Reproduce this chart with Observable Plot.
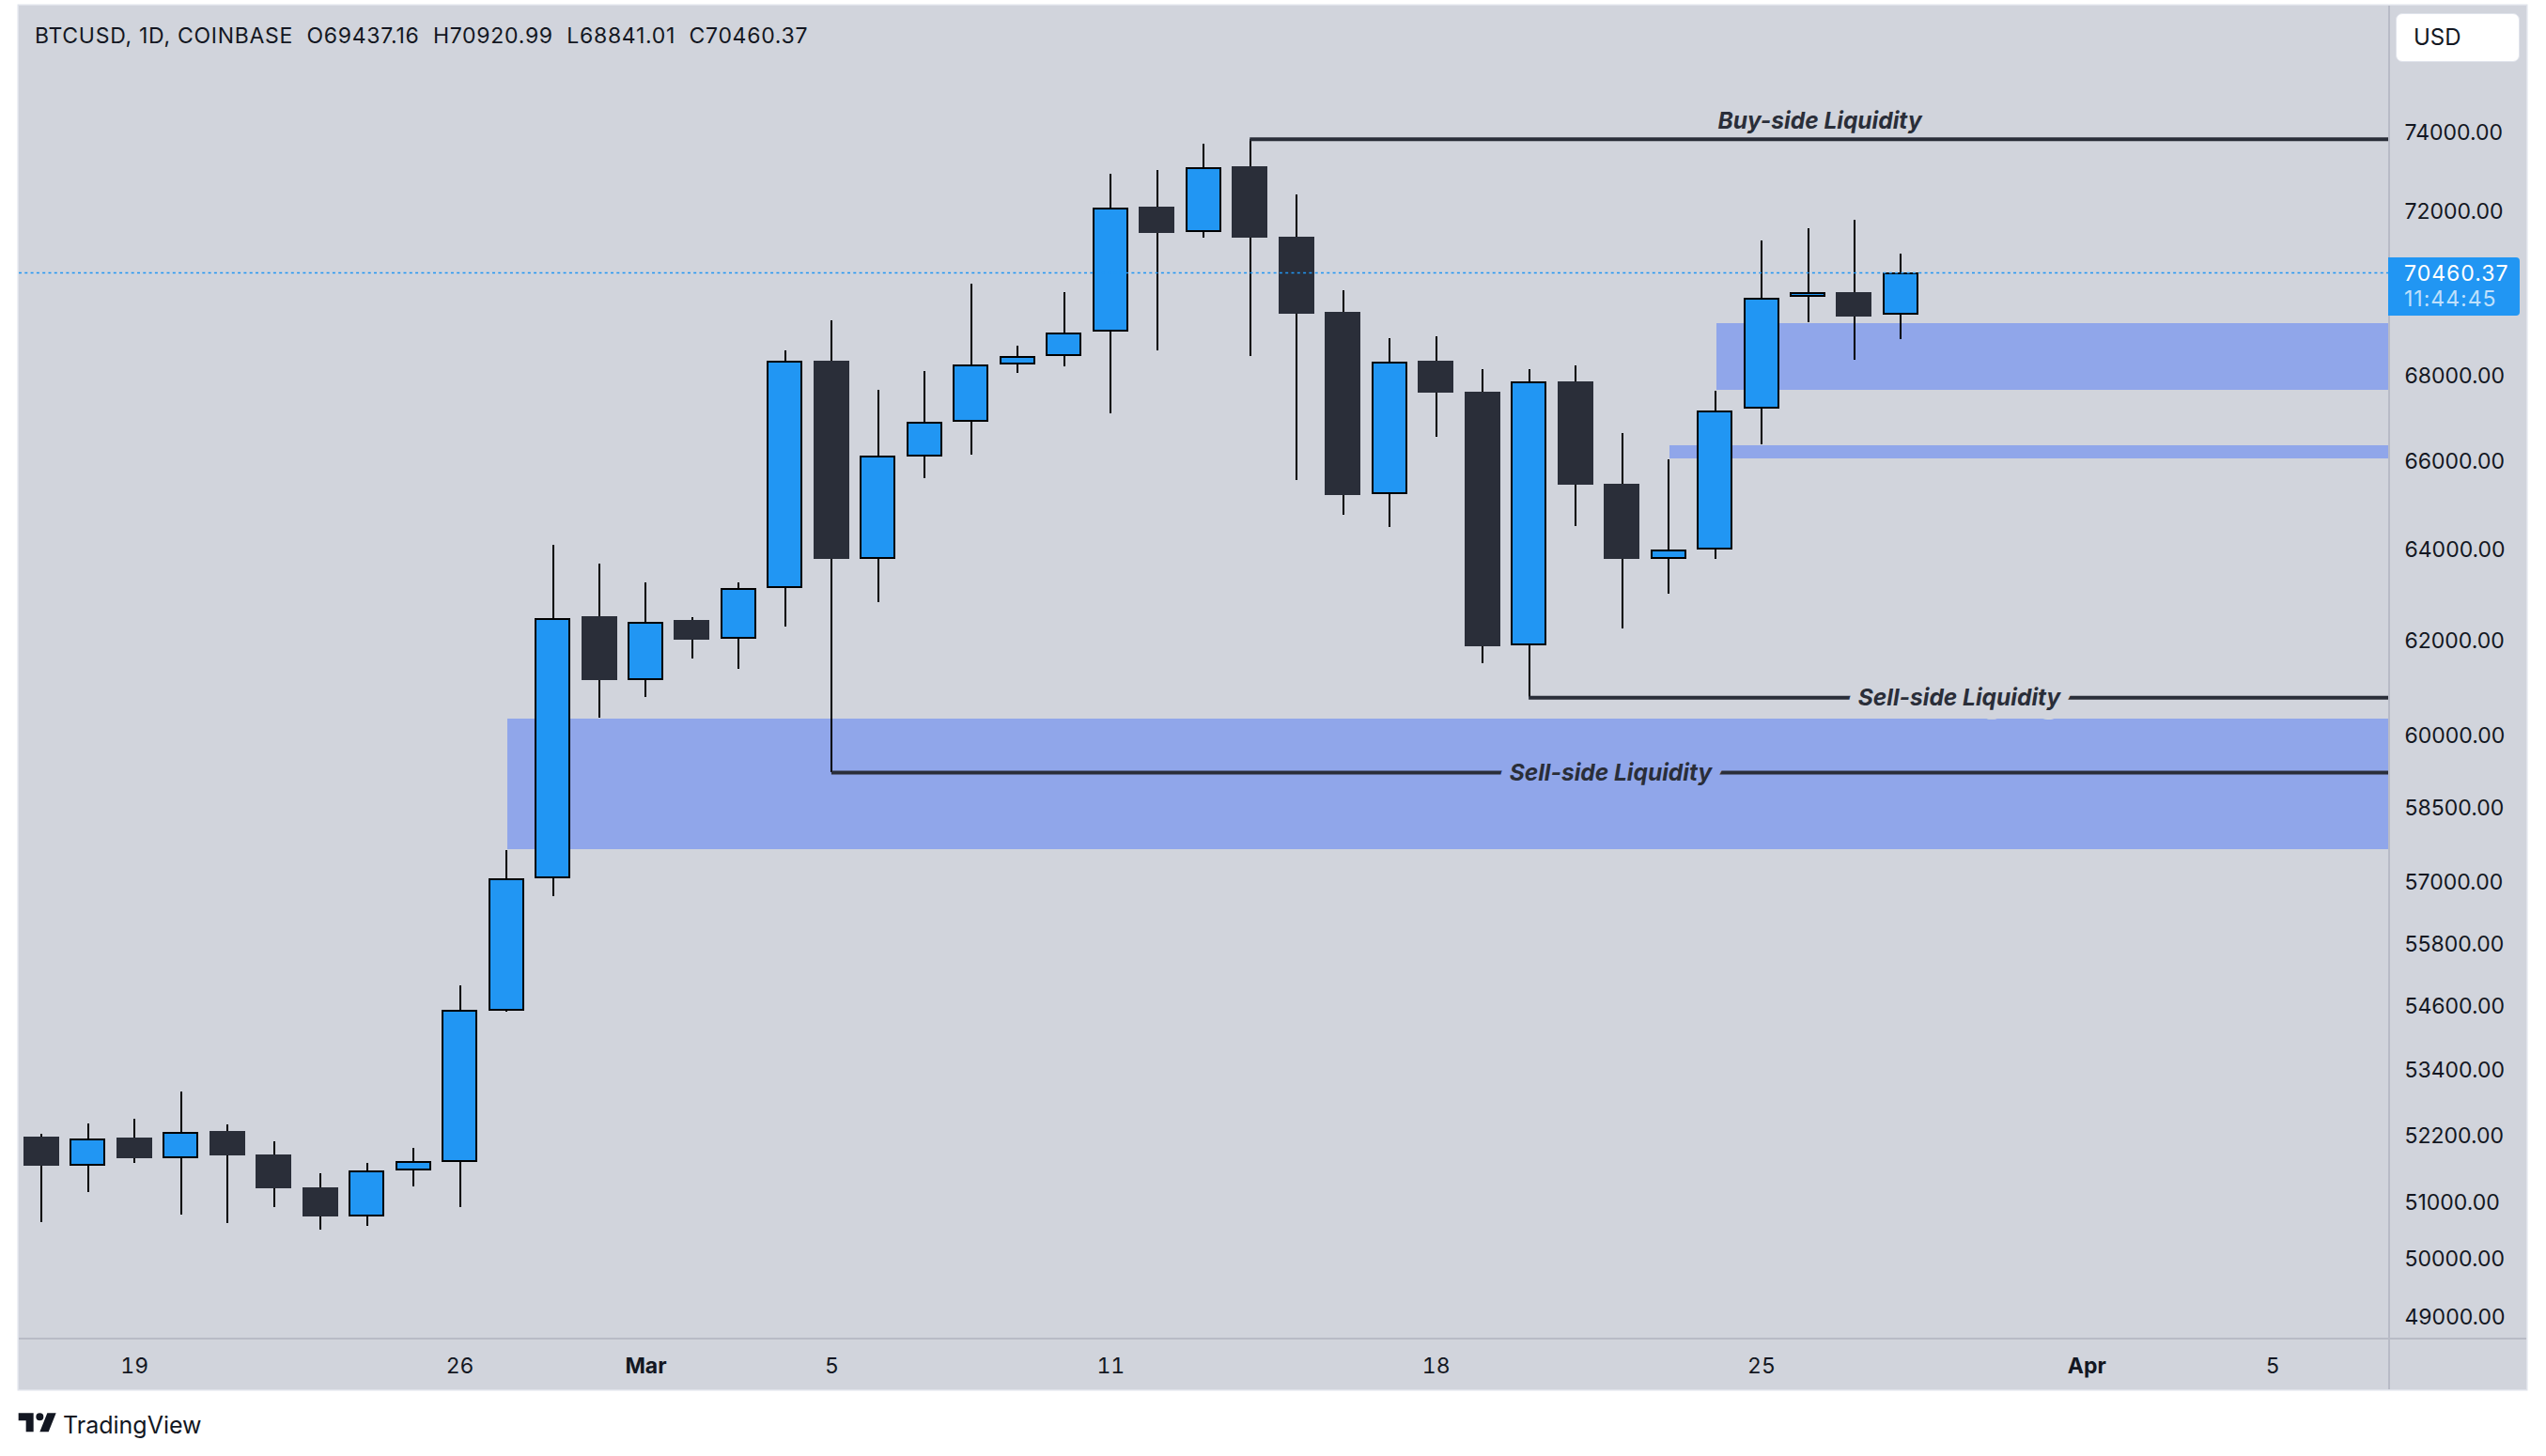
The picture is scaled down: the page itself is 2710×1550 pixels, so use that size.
<!DOCTYPE html>
<html><head><meta charset="utf-8">
<script src="https://cdn.jsdelivr.net/npm/d3@7"></script>
<script src="https://cdn.jsdelivr.net/npm/@observablehq/plot@0.6"></script>
<style>
html,body{margin:0;background:#fff;width:2710px;height:1550px;overflow:hidden;font-family:Inter,sans-serif;color:#131722}
#panel{position:absolute;left:20px;top:6px;width:2669px;height:1473px;background:#d1d4dc;box-shadow:0 0 0 1.5px #e0e3eb}
#chart{position:absolute;left:0;top:0}
#chart svg{display:block;background:transparent}
.v{position:absolute;left:2542px;top:6px;width:2px;height:1473px;background:#b8bbc6}
.h{position:absolute;left:20px;top:1424px;width:2669px;height:1.6px;background:#b8bbc6}
#head{position:absolute;left:37px;top:24px;font:23px/28px Inter,sans-serif;white-space:pre;color:#131722;letter-spacing:.72px}
#usd{position:absolute;left:2550px;top:14px;width:132px;height:52px;box-sizing:border-box;background:#fff;border-radius:7px;border:1px solid #e0e3eb;font:24px/50px Inter,sans-serif;padding-left:18px;color:#131722}
#tag{position:absolute;left:2542px;top:274px;width:140px;height:62px;background:#2196f3;border-radius:0 4px 4px 0;color:#fff;font:23px/28px Inter,sans-serif;letter-spacing:1px}
#tag span{position:absolute;left:17px}
#foot{position:absolute;left:20px;top:1498px;height:36px;color:#131722;font:25px/38px Inter,sans-serif}
#foot svg{position:absolute;left:-2.6px;top:5px}
#foot b{position:absolute;left:47px;top:0;font-weight:400;white-space:nowrap}
[aria-label="price tick"]{letter-spacing:1px}
</style></head>
<body>
<div id="panel"></div>
<div id="chart"></div>
<div class="v"></div><div class="h"></div>
<div id="head">BTCUSD, 1D, COINBASE  O69437.16  H70920.99  L68841.01  C70460.37</div>
<div id="usd">USD</div>
<div id="tag"><span style="top:3px">70460.37</span><span style="top:30px;color:#bfe0fc">11:44:45</span></div>
<div id="foot"><svg width="48" height="28" viewBox="0 6 36 20" preserveAspectRatio="xMinYMin"><path fill="#131722" transform="translate(0,1)" d="M14 6H2v6h6v9h6V6Zm12 15h-7l6-15h7l-6 15Zm-7-9a3 3 0 1 0 0-6 3 3 0 0 0 0 6Z"/></svg><b>TradingView</b></div>
<script>
const firstDay = Date.UTC(2024, 1, 17);
const dayMs = 864e5;
const opens = [52158,51641,52141,51776,52260,51835,51245,50737,51556,51708,54494,57064,62518,61145,62436,62025,63130,68327,63781,66092,66897,68249,68447,69023,72090,71456,73110,71340,69498,65227,68327,67594,61883,67837,65462,63781,63981,67188,69863,69977,69437.16];
const highs = [52204,52397,52483,52983,52380,52073,51497,51683,51954,54977,57627,64086,63668,63254,62493,63254,68573,69294,67638,68081,70183,68685,69977,72919,73015,73686,73816,72397,70023,68865,68910,68126,68126,68215,66628,66021,67616,71246,71550,71761,70920.99];
const lows = [50629,51162,51683,50762,50613,50895,50497,50563,51262,50895,54476,56711,60349,60780,61601,61379,62289,59212,62821,65591,66129,68037,68193,67087,68573,71321,68438,65548,64760,64485,66541,61500,60780,64506,62248,63006,63773,66367,69249,68349,68841.01];
const closes = [51632,52132,51767,52252,51818,51229,50729,51556,51717,54511,57064,62481,61139,62399,62009,63130,68338,63773,66108,66897,68249,68447,69009,72073,71435,73098,71321,69453,65206,68316,67571,61863,67837,65441,63773,63981,67164,69851,69977,69385,70460.37];
const priceTicks = [74000,72000,68000,66000,64000,62000,60000,58500,57000,55800,54600,53400,52200,51000,50000,49000];
const dayTicks = [Date.UTC(2024,1,19),Date.UTC(2024,1,26),Date.UTC(2024,2,5),Date.UTC(2024,2,11),Date.UTC(2024,2,18),Date.UTC(2024,2,25),Date.UTC(2024,3,5)].map(d=>new Date(d));
const monthTicks = [Date.UTC(2024,2,1),Date.UTC(2024,3,1)].map(d=>new Date(d));
const lastPrice = [70460.37];
const zoneStarts = [Date.UTC(2024,1,27),Date.UTC(2024,2,24),Date.UTC(2024,2,23)];
const zoneTops = [60325,69226,66346];
const zoneBottoms = [57645,67638,66043];
const lineStarts = [Date.UTC(2024,2,14),Date.UTC(2024,2,20),Date.UTC(2024,2,5)];
const linePrices = [73816,60780,59212];
const lineLabels = ["Buy-side Liquidity","Sell-side Liquidity","Sell-side Liquidity"];

const bg = "#d1d4dc", zoneFill = "#90a6ea", dark = "#2a2e39", blue = "#2196f3";
const xDomain = [new Date(firstDay - 0.48*dayMs), new Date(firstDay + 50.51*dayMs)];
const candles = opens.map((o,i)=>({date:new Date(firstDay+i*dayMs),o,h:highs[i],l:lows[i],c:closes[i],up:closes[i]>=o}));
const zones = zoneStarts.map((s,i)=>({x1:new Date(s),x2:xDomain[1],y1:zoneBottoms[i],y2:zoneTops[i]}));
const lines = lineStarts.map((s,i)=>({x1:new Date(s),x2:xDomain[1],y:linePrices[i],label:lineLabels[i],mid:new Date((s+ +xDomain[1])/2)}));
const hw = (d,k)=>new Date(+d + k*dayMs);
const common = {fontFamily:"Inter,sans-serif",fontSize:24.5,fontStyle:"italic",fontWeight:700,fill:dark,textAnchor:"middle",lineAnchor:"middle"};

const chart = Plot.plot({
  width:2710, height:1550,
  marginLeft:20, marginRight:167, marginTop:6, marginBottom:126,
  style:{background:"transparent",color:"#131722",fontFamily:"Inter,sans-serif",overflow:"visible"},
  x:{type:"utc",domain:xDomain,label:null},
  y:{type:"log",domain:[48637,77314],label:null,axis:null},
  marks:[
    Plot.rect(zones,{x1:"x1",x2:"x2",y1:"y1",y2:"y2",insetLeft:1.5,fill:zoneFill,shapeRendering:"crispEdges"}),
    Plot.ruleX(candles,{x:"date",y1:"l",y2:"h",stroke:"#000",strokeWidth:2,shapeRendering:"crispEdges"}),
    Plot.rect(candles.filter(d=>!d.up),{x1:d=>hw(d.date,-0.384),x2:d=>hw(d.date,0.384),y1:"o",y2:"c",fill:dark,shapeRendering:"crispEdges"}),
    Plot.rect(candles.filter(d=>d.up),{x1:d=>hw(d.date,-0.364),x2:d=>hw(d.date,0.364),y1:"o",y2:"c",insetTop:1,insetBottom:1,fill:blue,stroke:"#000",strokeWidth:2,shapeRendering:"crispEdges"}),
    Plot.ruleY(lines,{x1:"x1",x2:"x2",y:"y",stroke:dark,strokeWidth:4}),
    Plot.ruleY(lastPrice,{y:d=>d,stroke:blue,strokeWidth:1.7,strokeDasharray:"3,3.3"}),
    Plot.text(lines.slice(0,1),{x:"mid",y:"y",text:"label",dy:-18.6,...common}),
    Plot.text(lines.slice(1,2),{x:"mid",y:"y",text:"label",dy:1,stroke:bg,strokeWidth:20,...common}),
    Plot.text(lines.slice(2,3),{x:"mid",y:"y",text:"label",dy:1,stroke:zoneFill,strokeWidth:20,...common}),
    Plot.text(priceTicks,{y:d=>d,text:d=>d3.format(".2f")(d),frameAnchor:"right",textAnchor:"start",dx:16,dy:1,fontSize:23,fill:"#131722",ariaLabel:"price tick"}),
    Plot.axisX({anchor:"bottom",ticks:dayTicks,tickFormat:d=>String(d.getUTCDate()),tickSize:0,tickPadding:21,fontSize:23,label:null}),
    Plot.axisX({anchor:"bottom",ticks:monthTicks,tickFormat:d3.utcFormat("%b"),tickSize:0,tickPadding:21,fontSize:23,fontWeight:700,label:null})
  ]
});
document.getElementById("chart").append(chart);
</script>
</body></html>
